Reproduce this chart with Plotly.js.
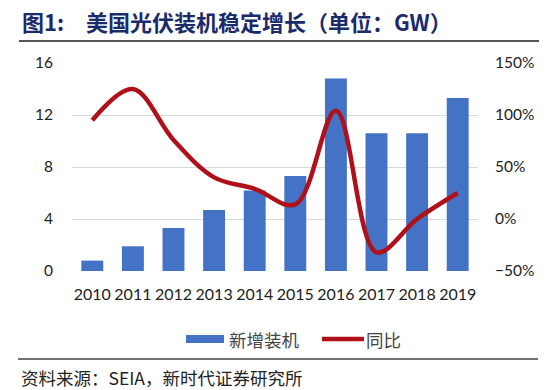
<!DOCTYPE html>
<html><head><meta charset="utf-8">
<script src="https://cdn.plot.ly/plotly-3.0.1.min.js"></script>
<style>html,body{margin:0;padding:0;background:#fff}#chart{width:546px;height:390px}</style>
</head><body><div id="chart"></div>
<script>
const years = ['2010','2011','2012','2013','2014','2015','2016','2017','2018','2019'];
const newInstalled = [0.8, 1.9, 3.3, 4.7, 6.2, 7.3, 14.8, 10.6, 10.6, 13.3];
const yoy = [0.95, 1.25, 0.76, 0.40, 0.29, 0.14, 1.04, -0.32, 0.0, 0.25];
const leftTicks = [0, 4, 8, 12, 16];
const rightTicks = [-0.5, 0, 0.5, 1.0, 1.5];
const seriesNames = ['新增装机', '同比'];
const barColor = '#4472C4';
const lineColor = '#B0101A';

// plot area: x 72..478 px, y 63..271 px
const L = 72, R = 478, T = 63, B = 271;
const px = v => (v - L) / (R - L);
const py = v => (B - v) / (B - T);

const tickFont = {family: 'Lato, "Open Sans", sans-serif', size: 16, color: '#222'};
const yTickFont = {family: 'Lato, "Open Sans", sans-serif', size: 15.5, color: '#222'};
const cjk = '"Noto Sans CJK SC", sans-serif';

const data = [
  {type: 'bar', name: seriesNames[0], x: years, y: newInstalled, marker: {color: barColor}, yaxis: 'y'},
  {type: 'scatter', mode: 'lines', name: seriesNames[1], x: years, y: yoy, yaxis: 'y2',
   line: {color: lineColor, width: 4.5, shape: 'spline', smoothing: 1}}
];

const layout = {
  width: 546, height: 390,
  margin: {l: L, r: 546 - R, t: T, b: 390 - B},
  paper_bgcolor: '#fff', plot_bgcolor: '#fff',
  bargap: 0.46,
  showlegend: false,
  font: {family: cjk},
  xaxis: {type: 'category', tickfont: tickFont, showgrid: false, zeroline: false, showline: false,
          ticks: '', ticklabelstandoff: 12},
  yaxis: {range: [0, 16], tickvals: leftTicks, tickfont: yTickFont, showgrid: true, gridcolor: '#D9D9D9',
          gridwidth: 1, zeroline: false, showline: false, ticks: '', ticklabelstandoff: 18},
  yaxis2: {range: [-0.5, 1.5], tickvals: rightTicks, tickformat: '.0%', overlaying: 'y', side: 'right',
           tickfont: yTickFont, showgrid: false, zeroline: false, showline: false, ticks: '', ticklabelstandoff: 16},
  annotations: [
    {xref: 'paper', yref: 'paper', x: px(20), y: py(21), xanchor: 'left', yanchor: 'middle', showarrow: false,
     text: '<b>图1:</b>', font: {family: cjk, size: 22, color: '#1B2A6B'}},
    {xref: 'paper', yref: 'paper', x: px(84), y: py(21), xanchor: 'left', yanchor: 'middle', showarrow: false,
     text: '<b>美国光伏装机稳定增长（单位：GW）</b>', font: {family: cjk, size: 22, color: '#1B2A6B'}},
    {xref: 'paper', yref: 'paper', x: px(19), y: py(377), xanchor: 'left', yanchor: 'middle', showarrow: false,
     text: '资料来源：SEIA，新时代证券研究所', font: {family: cjk, size: 17.5, color: '#222'}},
    {xref: 'paper', yref: 'paper', x: px(227), y: py(339), xanchor: 'left', yanchor: 'middle', showarrow: false,
     text: seriesNames[0], font: {family: cjk, size: 17.5, color: '#444'}},
    {xref: 'paper', yref: 'paper', x: px(364), y: py(339), xanchor: 'left', yanchor: 'middle', showarrow: false,
     text: seriesNames[1], font: {family: cjk, size: 17.5, color: '#444'}}
  ],
  shapes: [
    {type: 'line', xref: 'paper', yref: 'paper', x0: px(19), x1: px(539), y0: py(41), y1: py(41),
     line: {color: '#555', width: 2}},
    {type: 'line', xref: 'paper', yref: 'paper', x0: px(18), x1: px(538), y0: py(359), y1: py(359),
     line: {color: '#444', width: 1.5}},
    {type: 'rect', xref: 'paper', yref: 'paper', x0: px(186), x1: px(224), y0: py(343), y1: py(335),
     fillcolor: barColor, line: {width: 0}},
    {type: 'line', xref: 'paper', yref: 'paper', x0: px(322), x1: px(364), y0: py(339), y1: py(339),
     line: {color: lineColor, width: 4.5}}
  ]
};
Plotly.newPlot('chart', data, layout, {displayModeBar: false, staticPlot: true});
</script></body></html>
